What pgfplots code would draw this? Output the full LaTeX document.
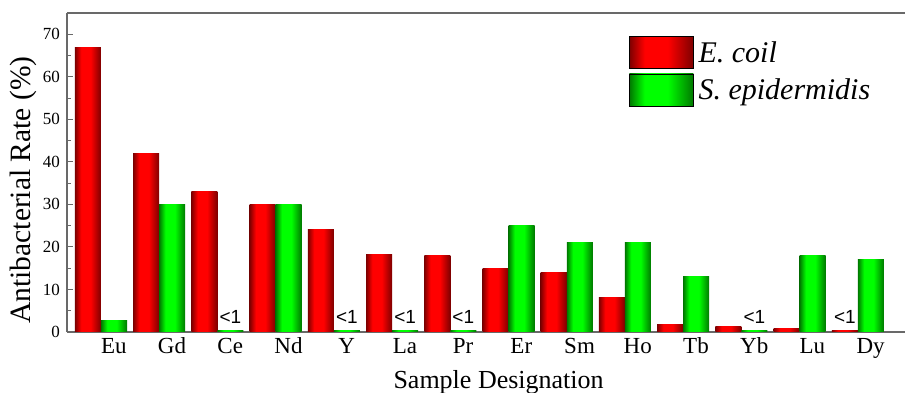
\documentclass[border=0pt]{standalone}
\usepackage{pgfplots}
\pgfplotsset{compat=1.18}
\usepackage{fontspec}
\setmainfont{Liberation Serif}
\newfontfamily\arial{Liberation Sans}
\definecolor{rdark}{RGB}{125,0,0}
\definecolor{rbright}{RGB}{255,0,0}
\definecolor{gdark}{RGB}{0,120,0}
\definecolor{gbright}{RGB}{0,255,0}
\definecolor{axgray}{RGB}{105,105,105}
\pgfdeclarehorizontalshading{redbar}{100bp}{color(0bp)=(rdark); color(25bp)=(rdark); color(37bp)=(rbright); color(55bp)=(rbright); color(75bp)=(rdark); color(100bp)=(rdark)}
\pgfdeclarehorizontalshading{greenbar}{100bp}{color(0bp)=(gdark); color(25bp)=(gdark); color(37bp)=(gbright); color(55bp)=(gbright); color(75bp)=(gdark); color(100bp)=(gdark)}
\pgfplotsset{
  rb/.style={ybar, bar width=0.447, bar shift=-0.2235, draw=none, shade, shading=redbar, forget plot},
  gb/.style={ybar, bar width=0.447, bar shift=0.2235, draw=none, shade, shading=greenbar, forget plot},
}
\begin{document}
\begin{tikzpicture}
\begin{axis}[
  scale only axis, width=838pt, height=319pt,
  xmin=-0.584, xmax=13.81, ymin=0, ymax=75,
  axis x line*=bottom, axis y line*=left,
  axis line style={axgray, line width=1.2pt, -},
  ytick={0,10,20,30,40,50,60,70}, minor y tick num=1,
  tick align=inside,
  major tick length=6pt, minor tick length=4pt,
  y tick style={axgray, line width=1pt},
  xtick={0.22,1.22,2.22,3.22,4.22,5.22,6.22,7.22,8.22,9.22,10.22,11.22,12.22,13.22},
  xticklabels={Eu,Gd,Ce,Nd,Y,La,Pr,Er,Sm,Ho,Tb,Yb,Lu,Dy},
  x tick style={draw=none},
  /pgf/number format/assume math mode=true,
  yticklabel style={font=\fontsize{17}{18}\selectfont, anchor=east, inner sep=0pt, xshift=-7pt},
  xticklabel style={font=\fontsize{23}{24}\selectfont, anchor=base, inner sep=0pt, yshift=-22pt},
  ylabel={Antibacterial Rate (\%)},
  ylabel style={font=\fontsize{29.5}{30}\selectfont, at={(rel axis cs:-0.052,0.445)}, anchor=center},
  xlabel={Sample Designation},
  xlabel style={font=\fontsize{26}{27}\selectfont, at={(rel axis cs:0.515,-0.178)}, anchor=base},
  legend style={at={(rel axis cs:0.6706,0.9279)}, anchor=north west, draw=none, fill=none,
    inner sep=0pt, row sep=5pt, font=\fontsize{30}{31}\selectfont\itshape,
    nodes={inner sep=0pt}, /tikz/every odd column/.style={column sep=5pt}},
  legend cell align=left,
  clip=false,
]
\addlegendimage{legend image code/.code={\path[shade, shading=redbar] (0pt,-16pt) rectangle (64pt,16pt);}}
\addlegendentry{E. coil}
\addlegendimage{legend image code/.code={\path[shade, shading=greenbar] (0pt,-16pt) rectangle (64pt,16pt);}}
\addlegendentry{S. epidermidis}
% E. coil
\addplot[rb] coordinates {(0,67)};
\addplot[rb] coordinates {(1,42)};
\addplot[rb] coordinates {(2,33)};
\addplot[rb] coordinates {(3,30)};
\addplot[rb] coordinates {(4,24)};
\addplot[rb] coordinates {(5,18.3)};
\addplot[rb] coordinates {(6,18)};
\addplot[rb] coordinates {(7,15)};
\addplot[rb] coordinates {(8,14)};
\addplot[rb] coordinates {(9,8)};
\addplot[rb] coordinates {(10,1.8)};
\addplot[rb] coordinates {(11,1.2)};
\addplot[rb] coordinates {(12,0.9)};
\addplot[rb] coordinates {(13,0.4)};
% S. epidermidis
\addplot[gb] coordinates {(0,2.8)};
\addplot[gb] coordinates {(1,30)};
\addplot[gb] coordinates {(2,0.3)};
\addplot[gb] coordinates {(3,30)};
\addplot[gb] coordinates {(4,0.3)};
\addplot[gb] coordinates {(5,0.3)};
\addplot[gb] coordinates {(6,0.3)};
\addplot[gb] coordinates {(7,25)};
\addplot[gb] coordinates {(8,21)};
\addplot[gb] coordinates {(9,21)};
\addplot[gb] coordinates {(10,13)};
\addplot[gb] coordinates {(11,0.4)};
\addplot[gb] coordinates {(12,18)};
\addplot[gb] coordinates {(13,17)};
\draw[axgray, line width=1.2pt] (rel axis cs:0,1) -- (rel axis cs:1,1);
\node[font=\arial\fontsize{19}{20}\selectfont, anchor=base, inner sep=0pt] at (axis cs:2.2235,1.88) {<1};
\node[font=\arial\fontsize{19}{20}\selectfont, anchor=base, inner sep=0pt] at (axis cs:4.2235,1.88) {<1};
\node[font=\arial\fontsize{19}{20}\selectfont, anchor=base, inner sep=0pt] at (axis cs:5.2235,1.88) {<1};
\node[font=\arial\fontsize{19}{20}\selectfont, anchor=base, inner sep=0pt] at (axis cs:6.2235,1.88) {<1};
\node[font=\arial\fontsize{19}{20}\selectfont, anchor=base, inner sep=0pt] at (axis cs:11.2235,1.88) {<1};
\node[font=\arial\fontsize{19}{20}\selectfont, anchor=base, inner sep=0pt] at (axis cs:12.7765,1.88) {<1};
\coordinate (bl) at (rel axis cs:0,0);
\coordinate (tr) at (rel axis cs:1,1);
\end{axis}
\pgfresetboundingbox
\path[use as bounding box] ([xshift=-67pt,yshift=-61pt]bl) rectangle ([yshift=13pt]tr);
\end{tikzpicture}
\end{document}
